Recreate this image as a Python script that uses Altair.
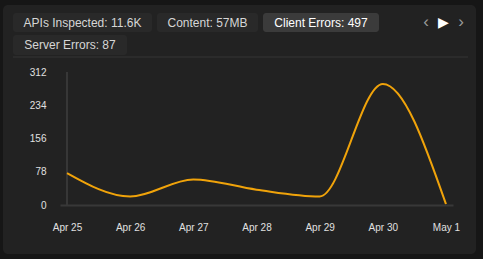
import altair as alt
import pandas as pd

# ---- data ----
dates = ["2024-04-25", "2024-04-26", "2024-04-27", "2024-04-28",
         "2024-04-29", "2024-04-30", "2024-05-01"]
client_errors = [75, 20, 60, 36, 20, 284, 2]
y_ticks = [0, 78, 156, 234, 312]
tabs = ["APIs Inspected: 11.6K", "Content: 57MB", "Client Errors: 497", "Server Errors: 87"]

df = pd.DataFrame({"date": dates, "value": client_errors})

FONT = "Liberation Sans"
OX, OY = 60, 72  # plot origin in page pixels


def px(v):
    return alt.value(v - OX)


def py(v):
    return alt.value(v - OY)


one = pd.DataFrame({"a": [0]})


def rect(x1, x2, y1, y2, fill, radius=3):
    return alt.Chart(one).mark_rect(fill=fill, cornerRadius=radius).encode(
        x=px(x1), x2=px(x2), y=py(y1), y2=py(y2))


def label(text, x, y, color="#d6d6d6", size=12, align="center"):
    return alt.Chart(one).mark_text(text=text, color=color, fontSize=size, font=FONT,
                                    align=align, baseline="middle").encode(x=px(x), y=py(y))


card = rect(3, 476, 5, 254, "#222222", 5)
b1 = rect(13, 152, 13, 32, "#292929")
b2 = rect(157, 258, 13, 32, "#292929")
b3 = rect(263, 379, 13, 32, "#3b3b3b")
b4 = rect(13, 127, 35, 55, "#292929")
t1 = label(tabs[0], 82.5, 23)
t2 = label(tabs[1], 207.5, 23)
t3 = label(tabs[2], 321, 23, color="#ffffff")
t4 = label(tabs[3], 70, 45)
divider = alt.Chart(one).mark_rule(color="#343434", strokeWidth=1).encode(
    x=px(13), x2=px(468), y=py(57))
a1 = label("‹", 426, 22, color="#9a9a9a", size=17)
a2 = label("▶", 443, 23, color="#ffffff", size=14)
a3 = label("›", 461, 22, color="#9a9a9a", size=17)
yrule = alt.Chart(one).mark_rule(color="#4d4d4d", strokeWidth=1).encode(
    x=px(67), y=py(72), y2=py(205))

x_scale = alt.Scale(type="utc", domain=["2024-04-24T21:20:00", "2024-05-01T02:40:00"])
y_scale = alt.Scale(domain=[0, 312], nice=False, zero=True)

line = alt.Chart(df).mark_line(color="#f0a30a", strokeWidth=2, interpolate="monotone").encode(
    x=alt.X("date:T", scale=x_scale,
            axis=alt.Axis(values=dates, labelExpr="utcFormat(datum.value, '%b %-d')", title=None,
                          grid=False, ticks=False, domainColor="#383838", domainWidth=2,
                          labelColor="#e0e0e0", labelFont=FONT, labelFontSize=10,
                          labelPadding=17, labelFlush=False, labelOverlap=False, zindex=1)),
    y=alt.Y("value:Q", scale=y_scale,
            axis=alt.Axis(values=y_ticks, title=None, grid=False, ticks=False, domain=False,
                          labelColor="#e0e0e0", labelFont=FONT, labelFontSize=10,
                          labelPadding=14, labelOverlap=False, labelFlush=False, zindex=1)),
)

chart = alt.layer(card, b1, b2, b3, b4, t1, t2, t3, t4, divider, a1, a2, a3, yrule, line).properties(
    width=393, height=133,
    padding={"left": OX, "top": OY, "right": 30, "bottom": 54},
    autosize=alt.AutoSizeParams(type="none"),
    background="#161616",
).configure_view(stroke=None)

chart.save("out.html", embed_options={"renderer": "svg", "actions": False})
